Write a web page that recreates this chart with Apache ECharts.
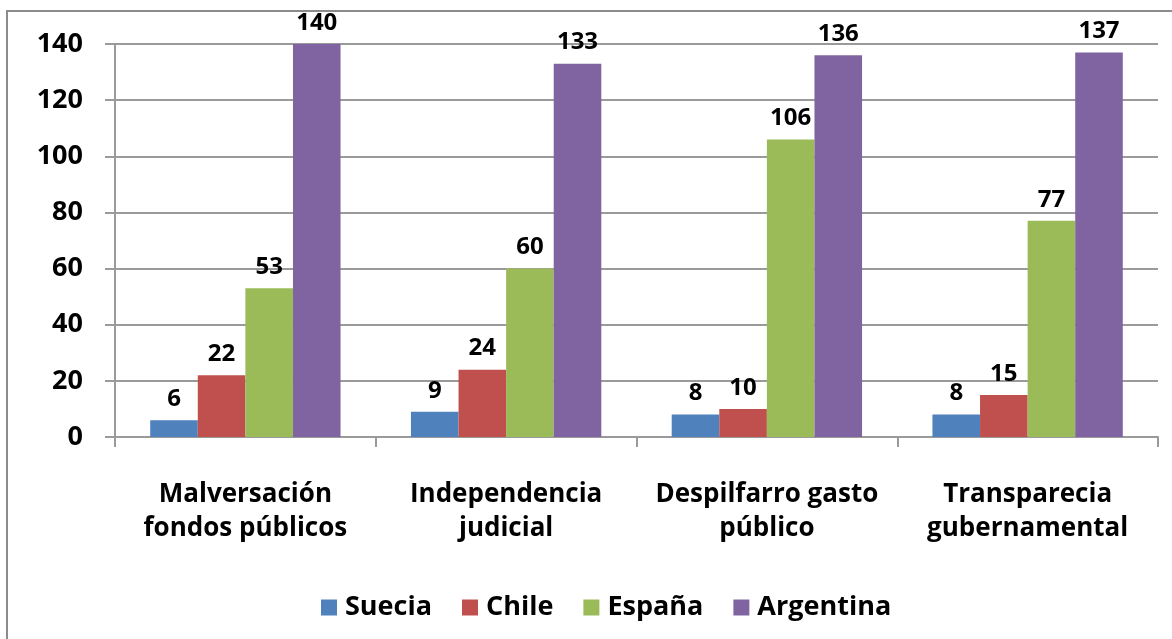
<!DOCTYPE html>
<html><head><meta charset="utf-8">
<script src="https://cdn.jsdelivr.net/npm/echarts@6/dist/echarts.min.js"></script>
<style>html,body{margin:0;padding:0;background:#fff}#c{width:1172px;height:639px}</style>
</head><body><div id="c"></div>
<script>
const categories = ['Malversación\nfondos públicos', 'Independencia\njudicial', 'Despilfarro gasto\npúblico', 'Transparecia\ngubernamental'];
const suecia = [6, 9, 8, 8];
const chile = [22, 24, 10, 15];
const espana = [53, 60, 106, 77];
const argentina = [140, 133, 136, 137];
const seriesNames = ['Suecia', 'Chile', 'España', 'Argentina'];
const colors = ['#4F81BD', '#C0504D', '#9BBB59', '#8064A2'];
const FONT = '"Open Sans", Lato, sans-serif';
const chart = echarts.init(document.getElementById('c'));
const mk = (name, data, color) => ({
  name, type: 'bar', data, barGap: '0%', barCategoryGap: '27%',
  itemStyle: { color },
  label: { show: true, position: 'top', distance: 9, color: '#000', fontFamily: FONT, fontWeight: 'bold', fontSize: 24 }
});
chart.setOption({
  animation: false,
  color: colors,
  graphic: [{ type: 'rect', shape: { x: 7, y: 11, width: 1180, height: 650 }, style: { fill: 'none', stroke: '#8c8c8c', lineWidth: 2 }, silent: true }],
  grid: { left: 115, right: 14, top: 44, bottom: 202 },
  legend: {
    data: seriesNames, left: 316, top: 589, itemWidth: 16, itemHeight: 16, itemGap: 30,
    icon: 'rect',
    textStyle: { fontFamily: FONT, fontWeight: 'bold', fontSize: 27, color: '#000', padding: [0, 0, 0, 3] }
  },
  xAxis: {
    type: 'category', data: categories,
    axisLine: { lineStyle: { color: '#9a9a9a', width: 2 } },
    axisTick: { show: true, length: 10, lineStyle: { color: '#9a9a9a', width: 2 } },
    axisLabel: { interval: 0, margin: 41, fontFamily: FONT, fontWeight: 'bold', fontSize: 26, color: '#000', lineHeight: 34 }
  },
  yAxis: {
    type: 'value', min: 0, max: 140, interval: 20,
    axisLine: { show: true, lineStyle: { color: '#9a9a9a', width: 2 } },
    axisTick: { show: true, length: 10, lineStyle: { color: '#9a9a9a', width: 2 } },
    splitLine: { lineStyle: { color: '#9a9a9a', width: 2 } },
    axisLabel: { margin: 32, fontFamily: FONT, fontWeight: 'bold', fontSize: 27, color: '#000' }
  },
  series: [mk(seriesNames[0], suecia, colors[0]), mk(seriesNames[1], chile, colors[1]), mk(seriesNames[2], espana, colors[2]), mk(seriesNames[3], argentina, colors[3])]
});
</script></body></html>
